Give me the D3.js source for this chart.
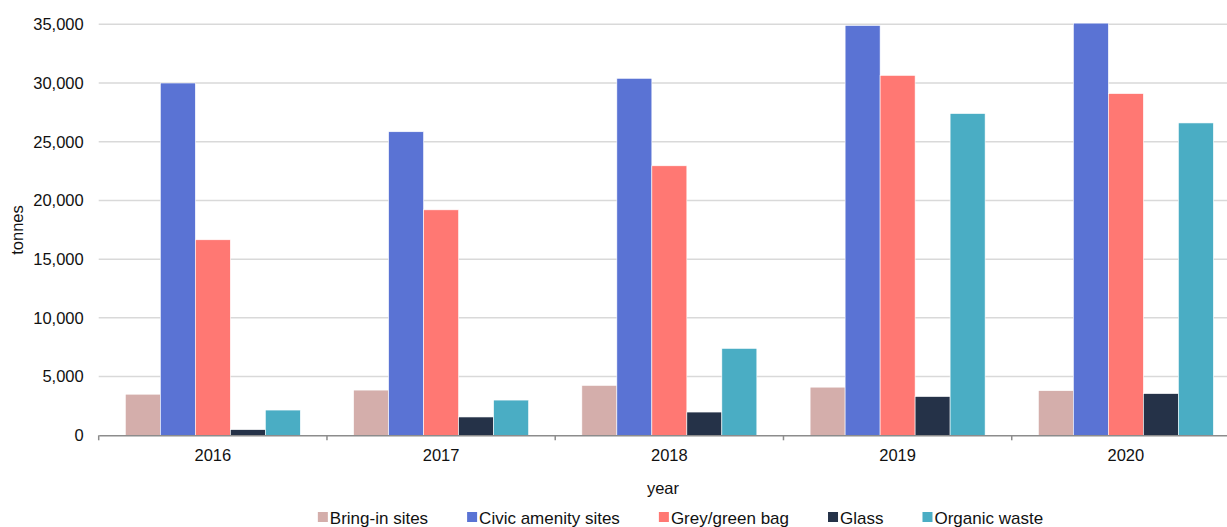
<!DOCTYPE html>
<html>
<head>
<meta charset="utf-8">
<script src="https://cdn.jsdelivr.net/npm/d3@7"></script>
<style>
  html, body { margin: 0; padding: 0; background: #fff; }
  svg text { font-family: "Liberation Sans", Arial, sans-serif; fill: #111; }
</style>
</head>
<body>
<svg id="chart" width="1227" height="527"></svg>
<script>
// Waste collected by stream, tonnes per year
const years = ["2016", "2017", "2018", "2019", "2020"];
const seriesNames = ["Bring-in sites", "Civic amenity sites", "Grey/green bag", "Glass", "Organic waste"];
const bringIn   = [3500, 3850, 4250, 4100, 3800];
const civic     = [30000, 25850, 30400, 34900, 35100];
const greyGreen = [16650, 19200, 22950, 30650, 29100];
const glass     = [480, 1560, 1980, 3300, 3550];
const organic   = [2150, 3000, 7400, 27400, 26600];
const yTicks = [0, 5000, 10000, 15000, 20000, 25000, 30000, 35000];
const colours = ["#d4aeab", "#5a73d4", "#ff7873", "#253248", "#4aadc4"];

const seriesValues = [bringIn, civic, greyGreen, glass, organic];
const rows = years.map((yr, i) => {
  const r = { year: yr };
  seriesNames.forEach((s, j) => { r[s] = seriesValues[j][i]; });
  return r;
});

const svg = d3.select("#chart");
const plotLeft = 98.7, plotRight = 1240, plotTop = 24.3, plotBottom = 435.3;

const x0 = d3.scaleBand().domain(years).range([plotLeft, plotRight]).paddingInner(0).paddingOuter(0);
const x1 = d3.scaleBand().domain(seriesNames).range([0, x0.bandwidth()]).paddingInner(0).paddingOuter(0.761);
const y = d3.scaleLinear().domain([0, 35000]).range([plotBottom, plotTop]);
const colour = d3.scaleOrdinal().domain(seriesNames).range(colours);

// gridlines
svg.append("g").selectAll("line")
  .data(yTicks.filter(t => t > 0))
  .join("line")
  .attr("x1", plotLeft).attr("x2", plotRight)
  .attr("y1", d => y(d)).attr("y2", d => y(d))
  .attr("stroke", "#d9d9d9").attr("stroke-width", 1.5);

// y tick labels
const yAxis = svg.append("g").attr("transform", `translate(${plotLeft},0)`)
  .call(d3.axisLeft(y).tickValues(yTicks).tickFormat(d3.format(",")).tickSize(0).tickPadding(15));
yAxis.select(".domain").remove();
yAxis.selectAll("text").style("font-size", "16.5px").attr("fill", "#111");

// bars
svg.append("g").selectAll("g")
  .data(rows)
  .join("g")
  .attr("transform", d => `translate(${x0(d.year)},0)`)
  .selectAll("rect")
  .data(d => seriesNames.map(s => ({ key: s, value: d[s] })))
  .join("rect")
  .attr("x", d => x1(d.key))
  .attr("width", x1.bandwidth())
  .attr("y", d => y(d.value))
  .attr("height", d => y(0) - y(d.value))
  .attr("fill", d => colour(d.key))
  .attr("stroke", "#fff").attr("stroke-width", 0.6);

// x axis
const xAxis = svg.append("g").attr("transform", `translate(0,${plotBottom})`)
  .call(d3.axisBottom(x0).tickSize(0).tickPadding(14));
xAxis.select(".domain").attr("stroke", "#8c8c8c").attr("stroke-width", 1.5);
xAxis.selectAll("text").style("font-size", "16.5px").attr("fill", "#111");
// category boundary ticks
svg.append("g").selectAll("line")
  .data(years.map(yr => x0(yr)).concat([plotRight]))
  .join("line")
  .attr("x1", d => d).attr("x2", d => d)
  .attr("y1", plotBottom).attr("y2", plotBottom + 5)
  .attr("stroke", "#8c8c8c").attr("stroke-width", 1.5);

// axis titles
svg.append("text")
  .attr("x", 663).attr("y", 494)
  .attr("text-anchor", "middle")
  .style("font-size", "16.5px")
  .text("year");
svg.append("text")
  .attr("transform", "translate(23,230) rotate(-90)")
  .attr("text-anchor", "middle")
  .style("font-size", "16.5px")
  .text("tonnes");

// legend
const legend = svg.append("g");
const items = legend.selectAll("g").data(seriesNames).join("g");
items.append("rect")
  .attr("width", 10).attr("height", 10)
  .attr("y", 512)
  .attr("fill", d => colour(d));
items.append("text")
  .attr("x", 12).attr("y", 524)
  .style("font-size", "17px")
  .text(d => d);
let cursor = 0;
const gap = 39;
items.each(function () {
  const g = d3.select(this);
  const w = 12 + g.select("text").node().getComputedTextLength();
  g.attr("transform", `translate(${cursor},0)`);
  cursor += w + gap;
});
const totalW = cursor - gap;
legend.attr("transform", `translate(${680.5 - totalW / 2},0)`);
</script>
</body>
</html>
